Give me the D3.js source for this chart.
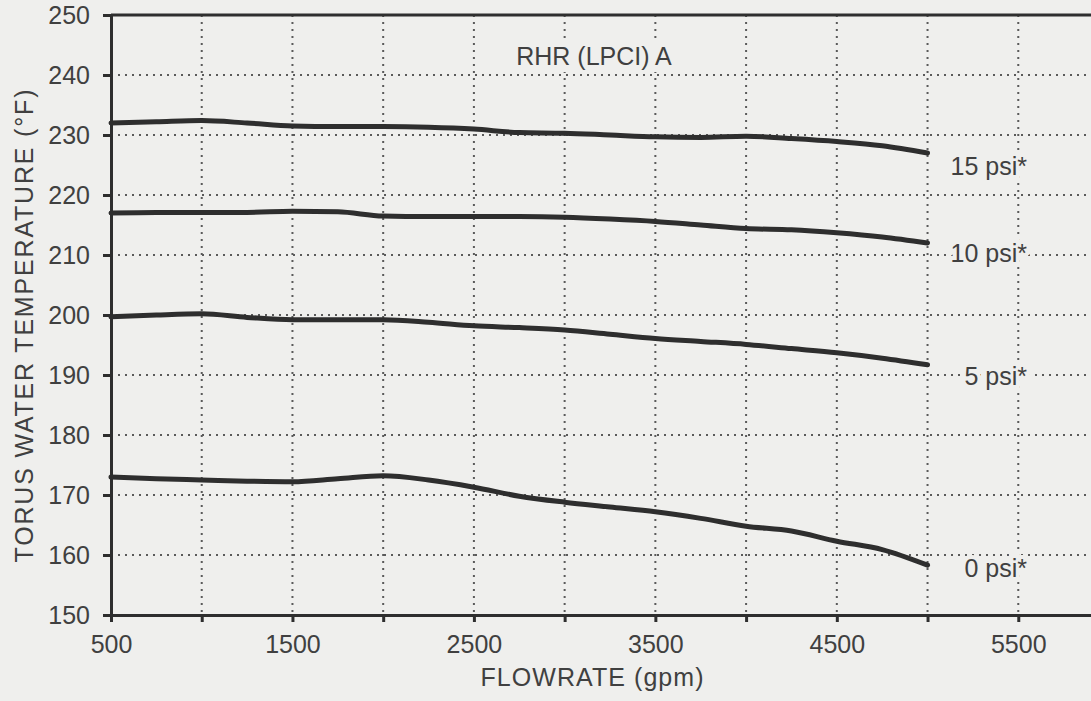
<!DOCTYPE html>
<html>
<head>
<meta charset="utf-8">
<script src="https://cdn.jsdelivr.net/npm/d3@7"></script>
<style>
  body { margin: 0; background: #efefed; }
  svg { display: block; }
</style>
</head>
<body>
<main></main>
<script>
// flowrate (gpm) sample points
const flowrates = [500, 750, 1000, 1250, 1500, 1750, 2000, 2250, 2500, 2750, 3000, 3250, 3500, 3750, 4000, 4250, 4500, 4750, 5000]

// torus water temperature (F) for each pressure curve
const psi15 = [232.0, 232.2, 232.4, 232.0, 231.5, 231.4, 231.4, 231.3, 231.0, 230.4, 230.3, 230.0, 229.7, 229.6, 229.8, 229.4, 228.9, 228.2, 227.0]
const psi10 = [217.0, 217.1, 217.1, 217.1, 217.3, 217.2, 216.5, 216.4, 216.4, 216.4, 216.3, 216.0, 215.6, 215.0, 214.4, 214.2, 213.7, 213.0, 212.0]
const psi5 = [199.7, 200.0, 200.2, 199.6, 199.2, 199.2, 199.2, 198.8, 198.2, 197.9, 197.5, 196.8, 196.1, 195.6, 195.1, 194.4, 193.7, 192.8, 191.7]
const psi0 = [173.0, 172.7, 172.5, 172.3, 172.2, 172.7, 173.2, 172.5, 171.3, 169.8, 168.8, 168.0, 167.2, 166.1, 164.8, 164.0, 162.3, 160.9, 158.3]

const seriesNames = ['15 psi*', '10 psi*', '5 psi*', '0 psi*']
const seriesValues = [psi15, psi10, psi5, psi0]

const xTicks = [500, 1000, 1500, 2000, 2500, 3000, 3500, 4000, 4500, 5000, 5500, 6000]
const xTickLabels = [500, 1500, 2500, 3500, 4500, 5500]
const yTicks = [150, 160, 170, 180, 190, 200, 210, 220, 230, 240, 250]

const width = 1091
const height = 701
const plotLeft = 111
const plotTop = 15
const plotBottom = 615
const bg = '#efefed'
const ink = '#2e2e2e'
const textInk = '#404040'
const font = '"Liberation Sans", Arial, sans-serif'
// vertical nudge of each curve label below its line end, px
const labelNudge = [13, 10, 11, 3]

const xScale = d3.scaleLinear()
  .domain([500, 6000])
  .range([plotLeft, 1109])

const yScale = d3.scaleLinear()
  .domain([150, 250])
  .range([plotBottom, plotTop])

const svg = d3.select('main')
  .append('svg')
  .attr('width', width)
  .attr('height', height)
  .style('background-color', bg)

// dotted grid (vertical first, the title box hides part of it)
svg.append('g')
  .selectAll('line')
  .data(xTicks.slice(1))
  .enter()
  .append('line')
  .attr('x1', d => xScale(d))
  .attr('x2', d => xScale(d))
  .attr('y1', plotTop)
  .attr('y2', plotBottom)
  .style('stroke', '#5a5a5a')
  .style('stroke-width', 2)
  .style('stroke-dasharray', '2,5')

svg.append('rect')
  .attr('x', 505)
  .attr('y', 38)
  .attr('width', 180)
  .attr('height', 34)
  .style('fill', bg)

svg.append('g')
  .selectAll('line')
  .data(yTicks.slice(1, -1))
  .enter()
  .append('line')
  .attr('x1', plotLeft)
  .attr('x2', width)
  .attr('y1', d => yScale(d))
  .attr('y2', d => yScale(d))
  .style('stroke', '#5a5a5a')
  .style('stroke-width', 2)
  .style('stroke-dasharray', '2,5')

// x-axis
const xAxis = d3.axisBottom(xScale)
  .tickValues(xTicks)
  .tickSize(7)
  .tickPadding(13)
  .tickFormat(d => xTickLabels.includes(d) ? d : '')

svg.append('g')
  .attr('id', 'x-axis')
  .attr('transform', `translate(0, ${plotBottom})`)
  .call(xAxis)

// y-axis
const yAxis = d3.axisLeft(yScale)
  .tickValues(yTicks)
  .tickSize(8)
  .tickPadding(13)

svg.append('g')
  .attr('id', 'y-axis')
  .attr('transform', `translate(${plotLeft}, 0)`)
  .call(yAxis)

svg.selectAll('.domain')
  .style('stroke', ink)
  .style('stroke-width', 3)

svg.selectAll('.tick line')
  .style('stroke', ink)
  .style('stroke-width', 3)

svg.selectAll('.tick text')
  .style('font-family', font)
  .style('font-size', '25px')
  .style('fill', textInk)

// top border
svg.append('line')
  .attr('x1', plotLeft)
  .attr('x2', width)
  .attr('y1', yScale(250))
  .attr('y2', yScale(250))
  .style('stroke', ink)
  .style('stroke-width', 3)

// curves
const line = d3.line()
  .x((d, i) => xScale(flowrates[i]))
  .y(d => yScale(d))
  .curve(d3.curveMonotoneX)

svg.append('g')
  .selectAll('path')
  .data(seriesValues)
  .enter()
  .append('path')
  .attr('d', line)
  .style('fill', 'none')
  .style('stroke', ink)
  .style('stroke-width', 5)
  .style('stroke-linecap', 'round')

// curve labels
svg.append('g')
  .selectAll('text')
  .data(seriesValues)
  .enter()
  .append('text')
  .text((d, i) => seriesNames[i])
  .attr('x', 1027)
  .attr('y', (d, i) => yScale(d[d.length - 1]) + labelNudge[i])
  .attr('dy', '0.35em')
  .attr('text-anchor', 'end')
  .style('font-family', font)
  .style('font-size', '25px')
  .style('fill', textInk)
  .style('paint-order', 'stroke')
  .style('stroke', bg)
  .style('stroke-width', 8)

// title inside the plot
svg.append('text')
  .text('RHR (LPCI) A')
  .attr('x', 594)
  .attr('y', 65)
  .attr('text-anchor', 'middle')
  .style('font-family', font)
  .style('font-size', '25px')
  .style('fill', textInk)

// axis titles
svg.append('text')
  .text('FLOWRATE (gpm)')
  .attr('x', 592)
  .attr('y', 686)
  .attr('text-anchor', 'middle')
  .attr('textLength', 223)
  .attr('lengthAdjust', 'spacing')
  .style('font-family', font)
  .style('font-size', '25px')
  .style('fill', textInk)

svg.append('text')
  .text('TORUS WATER TEMPERATURE (°F)')
  .attr('transform', 'translate(33, 326) rotate(-90)')
  .attr('text-anchor', 'middle')
  .attr('textLength', 473)
  .attr('lengthAdjust', 'spacing')
  .style('font-family', font)
  .style('font-size', '25px')
  .style('fill', textInk)
</script>
</body>
</html>
